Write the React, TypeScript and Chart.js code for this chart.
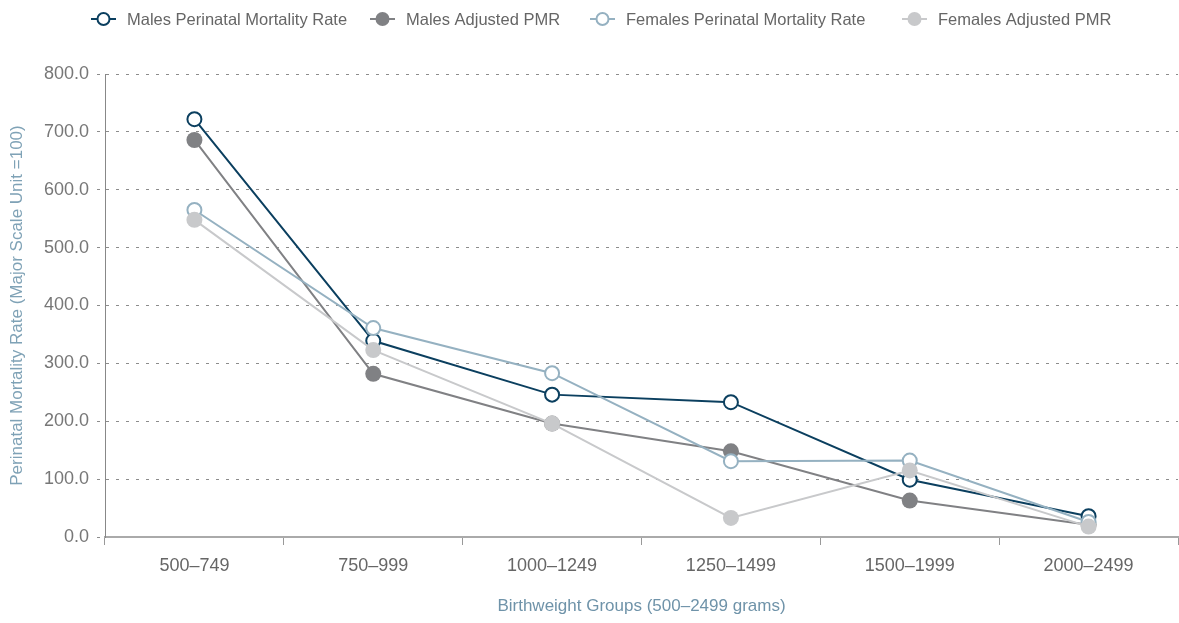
import React, { useEffect, useRef } from "react";
import { Chart, registerables } from "chart.js";

Chart.register(...registerables);

const categories = ["500–749", "750–999", "1000–1249", "1250–1499", "1500–1999", "2000–2499"];
const malesPMR = [722, 339, 246, 233, 99, 36];
const malesAdjusted = [686, 282, 196, 148, 63, 21];
const femalesPMR = [565, 361, 283, 131, 132, 26];
const femalesAdjusted = [548, 323, 196, 33, 115, 18];
const seriesNames = [
  "Males Perinatal Mortality Rate",
  "Males Adjusted PMR",
  "Females Perinatal Mortality Rate",
  "Females Adjusted PMR",
];
const yAxisTitle = "Perinatal Mortality Rate (Major Scale Unit =100)";
const xAxisTitle = "Birthweight Groups (500–2499 grams)";

const NAVY = "#0b3f5f";
const DARK_GREY = "#808184";
const LIGHT_BLUE = "#95b1c1";
const LIGHT_GREY = "#c8c9cb";
const FONT = "'Liberation Sans', Arial, sans-serif";

const legendStarts = [91, 370, 590, 902];

const legendPlugin = {
  id: "customLegend",
  afterDraw(chart: any) {
    const ctx = chart.ctx;
    ctx.save();
    chart.data.datasets.forEach((ds: any, i: number) => {
      const x0 = legendStarts[i];
      const y = 19;
      ctx.beginPath();
      ctx.strokeStyle = ds.borderColor;
      ctx.lineWidth = 2;
      ctx.moveTo(x0, y);
      ctx.lineTo(x0 + 25, y);
      ctx.stroke();
      ctx.beginPath();
      const filled = ds.pointBorderWidth === 0;
      ctx.arc(x0 + 12.5, y, filled ? 7 : 6, 0, Math.PI * 2);
      ctx.fillStyle = ds.pointBackgroundColor;
      ctx.fill();
      if (!filled) {
        ctx.lineWidth = 2;
        ctx.strokeStyle = ds.pointBorderColor;
        ctx.stroke();
      }
      ctx.fillStyle = "#666";
      ctx.font = `16.5px ${FONT}`;
      ctx.textBaseline = "middle";
      ctx.textAlign = "left";
      ctx.fillText(ds.label, x0 + 36, y + 1);
    });
    ctx.restore();
  },
};

export default function App() {
  const ref = useRef<HTMLCanvasElement | null>(null);
  useEffect(() => {
    document.body.style.margin = "0";
    const canvas = ref.current!;
    const chart = new Chart(canvas, {
      type: "line",
      data: {
        labels: categories,
        datasets: [
          {
            label: seriesNames[0],
            data: malesPMR,
            borderColor: NAVY,
            borderWidth: 2,
            pointRadius: 7,
            pointBorderWidth: 2,
            pointBackgroundColor: "#ffffff",
            pointBorderColor: NAVY,
            order: 4,
          },
          {
            label: seriesNames[1],
            data: malesAdjusted,
            borderColor: DARK_GREY,
            borderWidth: 2,
            pointRadius: 8,
            pointBorderWidth: 0,
            pointBackgroundColor: DARK_GREY,
            pointBorderColor: DARK_GREY,
            order: 3,
          },
          {
            label: seriesNames[2],
            data: femalesPMR,
            borderColor: LIGHT_BLUE,
            borderWidth: 2,
            pointRadius: 7,
            pointBorderWidth: 2,
            pointBackgroundColor: "#ffffff",
            pointBorderColor: LIGHT_BLUE,
            order: 2,
          },
          {
            label: seriesNames[3],
            data: femalesAdjusted,
            borderColor: LIGHT_GREY,
            borderWidth: 2,
            pointRadius: 8,
            pointBorderWidth: 0,
            pointBackgroundColor: LIGHT_GREY,
            pointBorderColor: LIGHT_GREY,
            order: 1,
          },
        ] as any,
      },
      options: {
        animation: false,
        responsive: false,
        layout: { autoPadding: false, padding: { top: 74, right: 1, left: 0, bottom: 0 } },
        plugins: { legend: { display: false }, tooltip: { enabled: false } },
        scales: {
          x: {
            offset: true,
            grid: {
              offset: true,
              drawOnChartArea: false,
              drawTicks: true,
              tickLength: 8,
              color: "#999",
            },
            border: { color: "#aaa", width: 2 },
            ticks: { color: "#666", font: { family: FONT, size: 18 }, padding: 10 },
            title: {
              display: true,
              text: xAxisTitle,
              color: "#6f93a9",
              font: { family: FONT, size: 17 },
              padding: { top: 18, bottom: 6 },
            },
            afterFit(scale: any) {
              scale.height = 86;
              scale.paddingRight = 0;
              scale.paddingLeft = 0;
            },
          },
          y: {
            min: 0,
            max: 800,
            ticks: {
              stepSize: 100,
              color: "#777",
              font: { family: FONT, size: 18 },
              padding: 8,
              callback: (v: any) => Number(v).toFixed(1),
            },
            grid: {
              color: "#8c8c8c",
              lineWidth: 1,
              tickLength: 8,
              tickBorderDash: [3, 7],
            },
            border: { display: true, color: "#888", width: 1, dash: [3, 7] },
            title: {
              display: true,
              text: yAxisTitle,
              color: "#7fa2b6",
              font: { family: FONT, size: 17 },
              padding: { top: 7, bottom: 4 },
            },
            afterFit(scale: any) {
              scale.width = 105;
            },
          },
        },
      },
      plugins: [legendPlugin],
    } as any);
    return () => chart.destroy();
  }, []);
  return (
    <div style={{ width: 1179, height: 623 }}>
      <canvas ref={ref} width={1179} height={623} />
    </div>
  );
}
